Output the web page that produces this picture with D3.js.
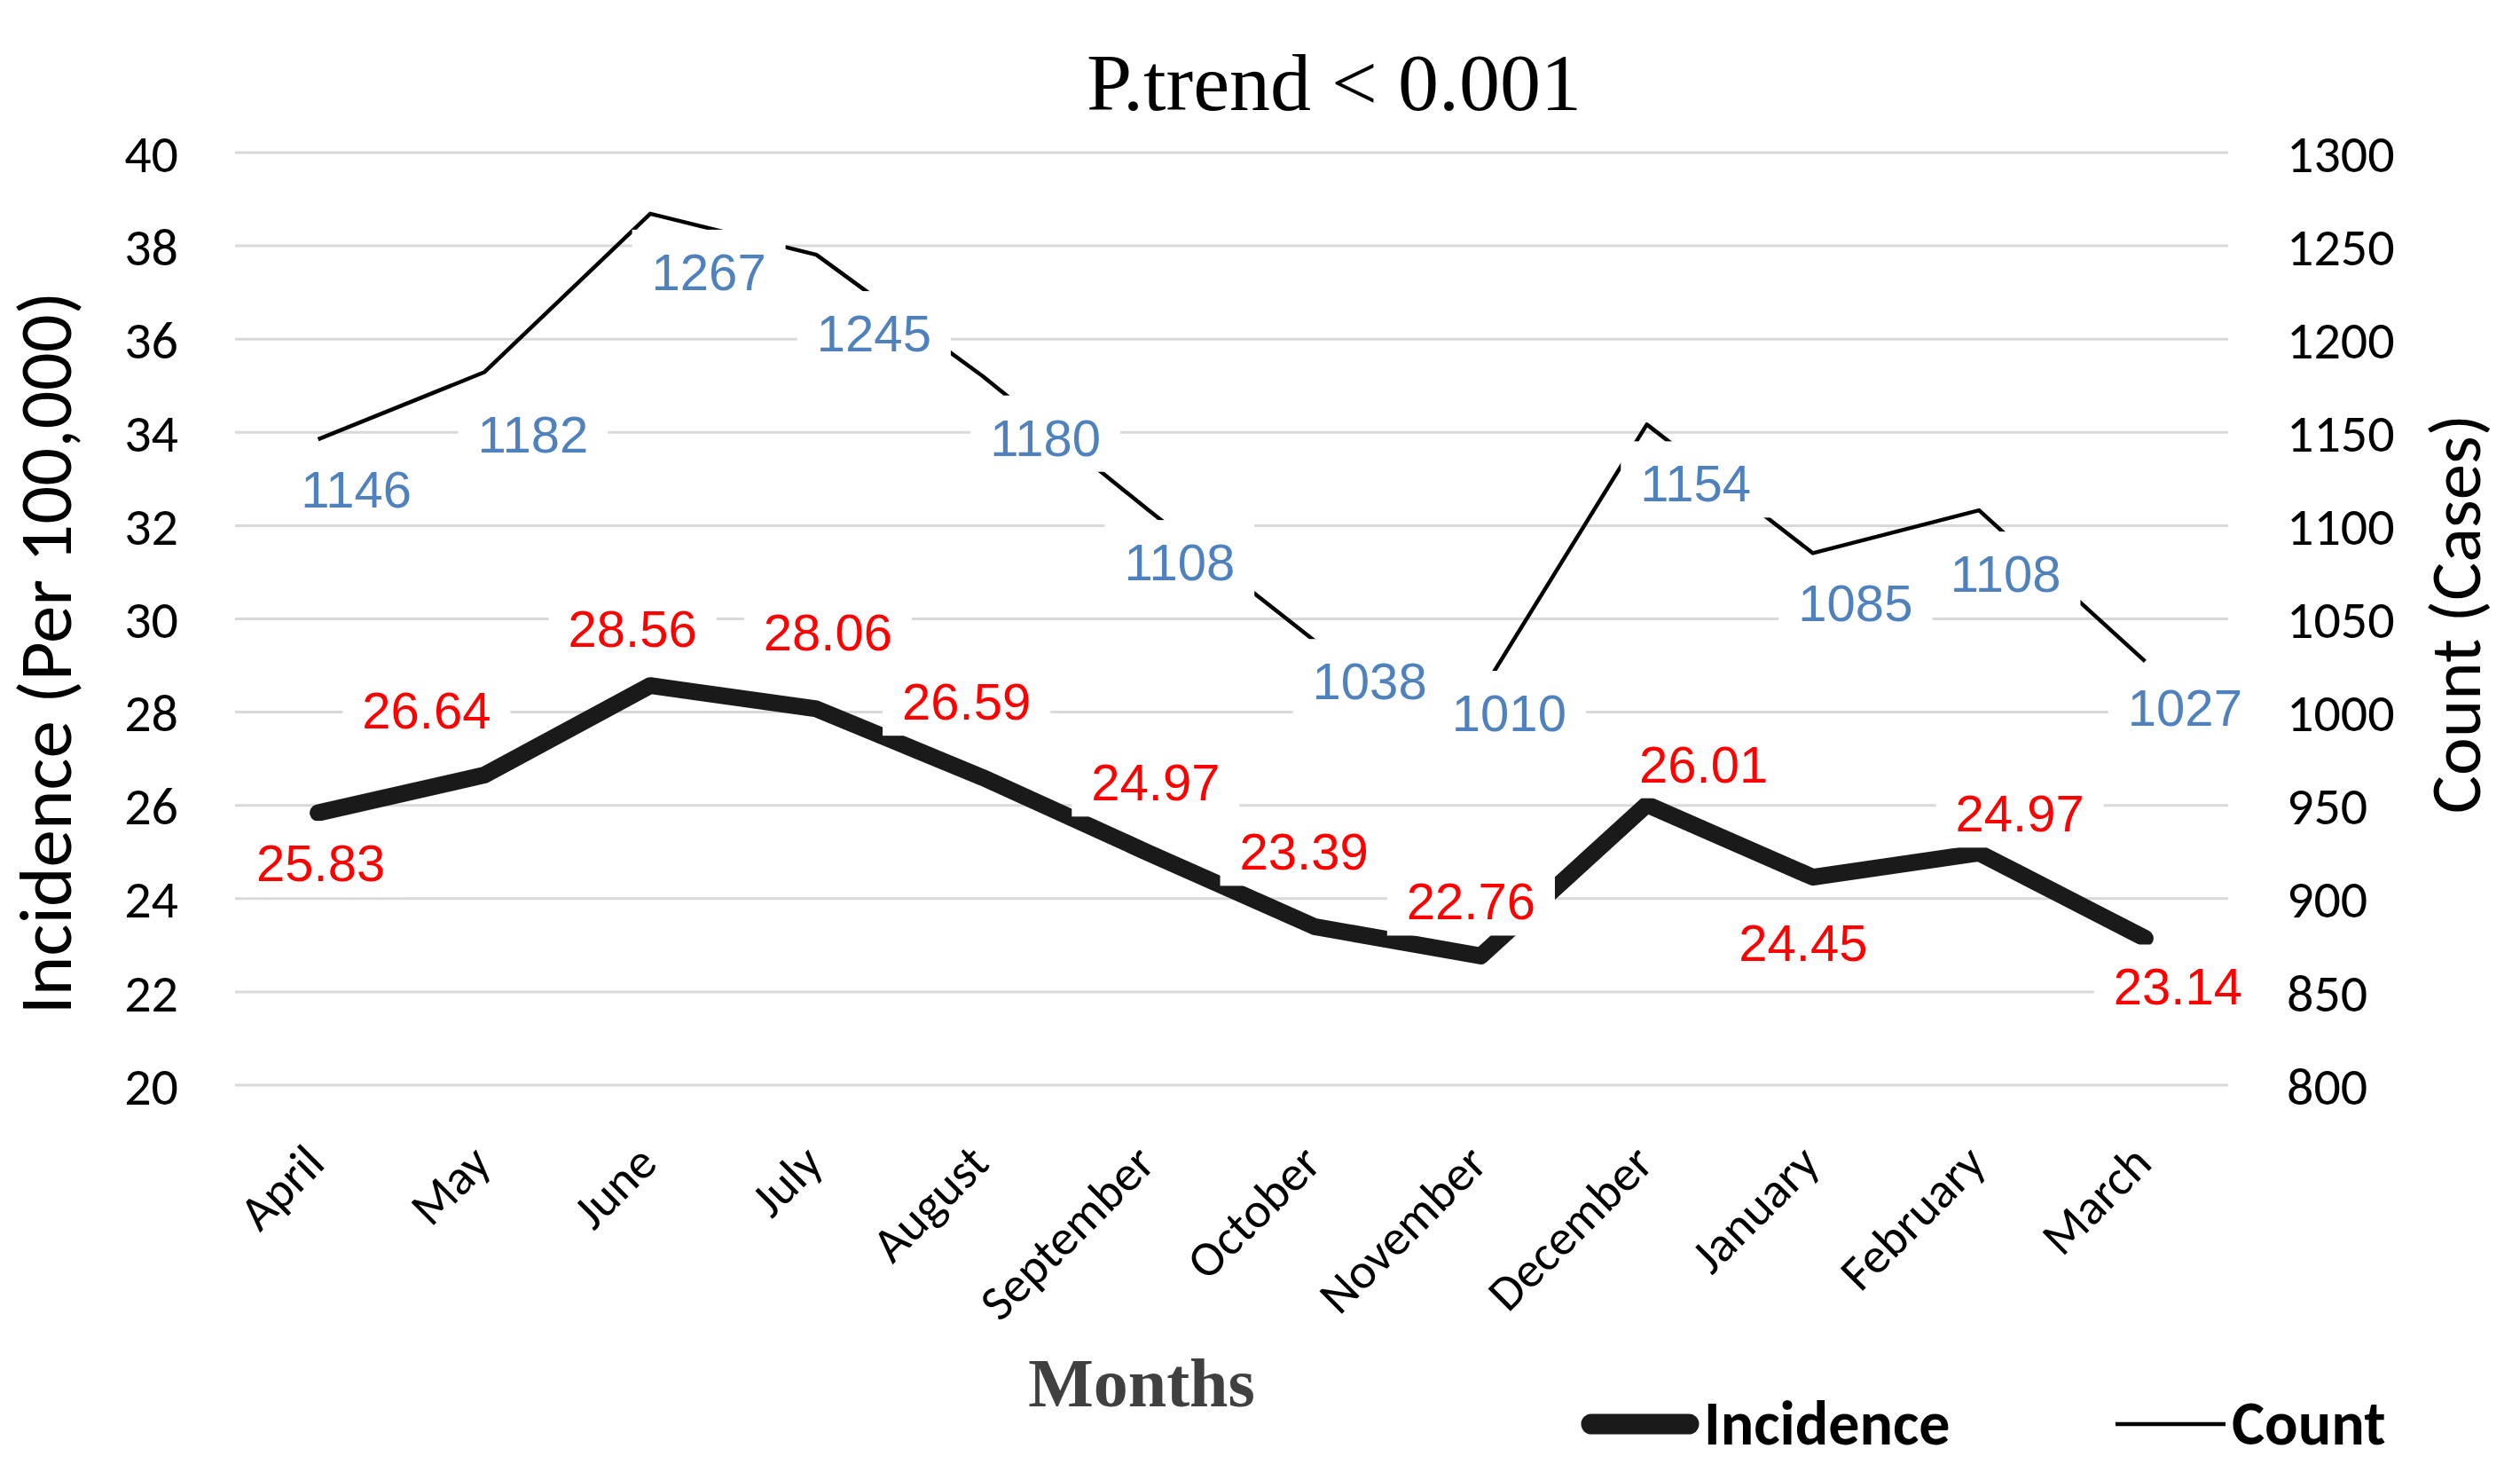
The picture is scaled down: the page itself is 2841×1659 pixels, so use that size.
<!DOCTYPE html>
<html><head><meta charset="utf-8">
<script src="https://cdn.jsdelivr.net/npm/d3@7"></script>
<style>body{margin:0;background:#fff;} svg{display:block}</style>
</head><body>
<svg id="chart" width="2841" height="1659"></svg>
<script>
// ---- data ----
const months = ["April","May","June","July","August","September","October","November","December","January","February","March"];
const incidence = [25.83, 26.64, 28.56, 28.06, 26.59, 24.97, 23.39, 22.76, 26.01, 24.45, 24.97, 23.14];
const counts = [1146, 1182, 1267, 1245, 1180, 1108, 1038, 1010, 1154, 1085, 1108, 1027];
const leftTicks = [20, 22, 24, 26, 28, 30, 32, 34, 36, 38, 40];
const rightTicks = [800, 850, 900, 950, 1000, 1050, 1100, 1150, 1200, 1250, 1300];
const seriesNames = ["Incidence", "Count"];
// ---- layout (label nudges, px) ----
const countLabelOffsets = [[43,77],[55,90],[66,86],[65,109],[71,90],[35,79],[62,66],[32,43],[55,87],[48,77],[30,92],[45,73]];
const incLabelOffsets = [[3,77],[-65,-53],[-20,-44],[13,-66],[-18,-65],[8,-59],[-12,-64],[-11,-41],[64,-25],[-11,94],[46,-24],[37,75]];

const svg = d3.select("#chart");
const L = 265, R = 2512, T = 171.5, B = 1222.5;
const sans = "Carlito, Calibri, Lato, sans-serif";
const arial = "'Liberation Sans', Arial, sans-serif";
const serif = "'Liberation Serif', 'Times New Roman', serif";

const x = d3.scaleBand().domain(months).range([L, R]);
const cx = m => x(m) + x.bandwidth() / 2;
const yL = d3.scaleLinear().domain([20, 40]).range([B, T]);
const yR = d3.scaleLinear().domain([800, 1300]).range([B, T]);

svg.append("rect").attr("width", 2841).attr("height", 1659).attr("fill", "#fff");

// gridlines
const grid = svg.append("g").attr("transform", `translate(${L},0)`)
  .call(d3.axisLeft(yL).tickValues(leftTicks).tickSize(-(R - L)).tickFormat(""));
grid.select(".domain").remove();
grid.selectAll("line").attr("stroke", "#d9d9d9").attr("stroke-width", 3);

// left axis labels
const ax1 = svg.append("g").attr("transform", `translate(${L},0)`)
  .call(d3.axisLeft(yL).tickValues(leftTicks).tickSize(0).tickPadding(64).tickFormat(d3.format("d")));
ax1.select(".domain").remove();
ax1.selectAll("text").attr("font-family", sans).attr("font-size", 60).attr("fill", "#000").attr("dy", "0.36em");

// right axis labels
const ax2 = svg.append("g").attr("transform", `translate(${R},0)`)
  .call(d3.axisRight(yR).tickValues(rightTicks).tickSize(0).tickPadding(66).tickFormat(d3.format("d")));
ax2.select(".domain").remove();
ax2.selectAll("text").attr("font-family", sans).attr("font-size", 60).attr("fill", "#000").attr("dy", "0.36em");

// x labels
svg.append("g").selectAll("text").data(months).join("text")
  .attr("transform", d => `translate(${cx(d) + 10},1314) rotate(-45)`)
  .attr("text-anchor", "end")
  .attr("font-family", sans).attr("font-size", 56).attr("fill", "#000")
  .text(d => d);

// lines
const cntLine = d3.line().x((d, i) => cx(months[i])).y(d => yR(d));
const incLine = d3.line().x((d, i) => cx(months[i])).y(d => yL(d));
svg.append("path").attr("d", cntLine(counts)).attr("fill", "none")
  .attr("stroke", "#000").attr("stroke-width", 4.5).attr("stroke-linejoin", "round");
svg.append("path").attr("d", incLine(incidence)).attr("fill", "none")
  .attr("stroke", "#1a1a1a").attr("stroke-width", 19).attr("stroke-linejoin", "round").attr("stroke-linecap", "round");

// data labels with white boxes
function labels(values, scale, offsets, color, fmt) {
  const g = svg.append("g");
  values.forEach((v, i) => {
    const px = cx(months[i]) + offsets[i][0];
    const py = scale(v) + offsets[i][1];
    const lg = g.append("g");
    const r = lg.append("rect").attr("fill", "#fff");
    const t = lg.append("text").attr("x", px).attr("y", py)
      .attr("text-anchor", "middle").attr("font-family", arial).attr("font-size", 58)
      .attr("fill", color).text(fmt(v));
    const w = t.node().getComputedTextLength();
    r.attr("x", px - w / 2 - 22).attr("y", py - 68).attr("width", w + 44).attr("height", 86);
  });
}
labels(counts, yR, countLabelOffsets, "#4f81bd", d => String(d));
labels(incidence, yL, incLabelOffsets, "#ff0000", d => d.toFixed(2));

// title
svg.append("text").attr("x", 1504).attr("y", 124).attr("text-anchor", "middle")
  .attr("font-family", serif).attr("font-size", 92).attr("fill", "#000").text("P.trend < 0.001");

// axis titles
svg.append("text").attr("x", 1287).attr("y", 1585).attr("text-anchor", "middle")
  .attr("font-family", serif).attr("font-weight", "bold").attr("font-size", 78).attr("fill", "#404040").text("Months");
svg.append("text").attr("transform", "translate(80,736) rotate(-90)").attr("text-anchor", "middle")
  .attr("font-family", sans).attr("font-size", 85).attr("fill", "#000").text("Incidence (Per 100,000)");
svg.append("text").attr("transform", "translate(2796,692) rotate(-90)").attr("text-anchor", "middle")
  .attr("font-family", sans).attr("font-size", 81).attr("fill", "#000").text("Count (Cases)");

// legend
const lg = svg.append("g");
lg.append("line").attr("x1", 1794).attr("x2", 1904).attr("y1", 1605).attr("y2", 1605)
  .attr("stroke", "#1a1a1a").attr("stroke-width", 23).attr("stroke-linecap", "round");
lg.append("text").attr("x", 1921).attr("y", 1628).attr("font-family", sans).attr("font-weight", "bold")
  .attr("font-size", 70).attr("fill", "#000").text(seriesNames[0]);
lg.append("line").attr("x1", 2385).attr("x2", 2509).attr("y1", 1605).attr("y2", 1605)
  .attr("stroke", "#000").attr("stroke-width", 4.5);
lg.append("text").attr("x", 2516).attr("y", 1628).attr("font-family", sans).attr("font-weight", "bold")
  .attr("font-size", 70).attr("fill", "#000").text(seriesNames[1]);
</script>
</body></html>
